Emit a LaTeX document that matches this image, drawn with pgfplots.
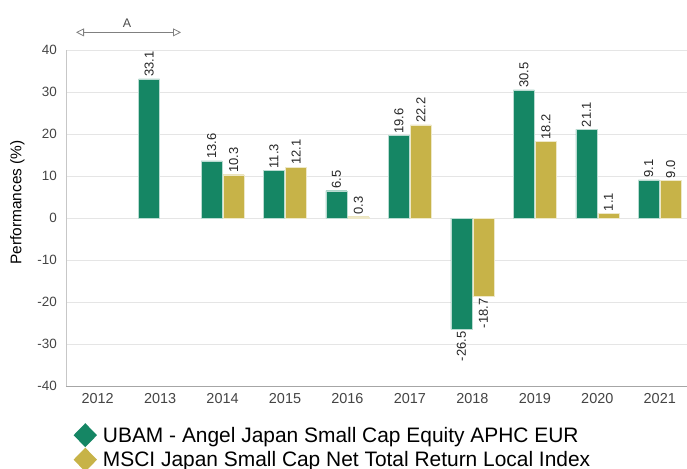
\documentclass[border=0pt]{standalone}
\usepackage{fontspec}
\setmainfont{Liberation Sans}
\usepackage{pgfplots}
\usepackage{pgfplotstable}
\pgfplotsset{compat=1.18}
\usetikzlibrary{arrows.meta}
\definecolor{ubgreen}{RGB}{21,134,100}
\definecolor{ubgold}{RGB}{199,179,72}
\definecolor{tickgray}{RGB}{68,68,68}
\pgfplotstableread{
x y
1 33.1
2 13.6
3 11.3
4 6.5
5 19.6
6 -26.5
7 30.5
8 21.1
9 9.1
}\fundtab
\pgfplotstableread{
x y
2 10.3
3 12.1
4 0.3
5 22.2
6 -18.7
7 18.2
8 1.1
9 9.0
}\indextab
\pgfplotsset{
  diamond legend/.style={legend image code/.code={
    \fill[##1,draw=none] (0bp,0bp) -- (11.7bp,12bp) -- (23.4bp,0bp) -- (11.7bp,-12bp) -- cycle;}},
  labelplot/.style 2 args={only marks, mark=none, forget plot,
    point meta=explicit symbolic, nodes near coords,
    every node near coord/.style={xshift=#1, rotate=90, anchor=#2,
      font=\fontsize{13}{14}\selectfont, text=black!85, inner sep=2bp}},
}
\begin{document}
\begin{tikzpicture}
\useasboundingbox (-66.4bp,-83bp) rectangle (620.6bp,386bp);
\begin{axis}[
  at={(0,0)}, anchor=south west,
  scale only axis,
  width=624.6bp, height=336bp,
  xmin=-0.5, xmax=9.5,
  ymin=-40, ymax=40,
  xtick={0,...,9},
  xticklabels={2012,2013,2014,2015,2016,2017,2018,2019,2020,2021},
  ytick={-40,-30,...,40},
  major tick length=0pt,
  ymajorgrids,
  grid style={draw=black!10, line width=0.8bp},
  axis x line*=bottom, axis y line*=left,
  x axis line style={draw=black!35, line width=0.8bp, -},
  y axis line style={draw=black!22, line width=0.8bp, -},
  tick label style={text=tickgray},
  xticklabel style={font=\fontsize{14.5}{16}\selectfont, yshift=-4bp},
  yticklabel style={font=\fontsize{13.5}{15}\selectfont, xshift=-6bp},
  /pgf/number format/assume math mode=true,
  ylabel={Performances (\%)},
  ylabel style={font=\fontsize{15.5}{17}\selectfont, at={(axis description cs:-0.0785,0.546)}, anchor=center},
  clip=false,
  legend style={at={(axis description cs:0,0)}, anchor=north west, xshift=4bp, yshift=-35bp,
    draw=none, fill=none, font=\fontsize{21}{24}\selectfont, row sep=0.5bp,
    /tikz/every even column/.append style={column sep=4bp}},
  legend cell align=left,
]
\addplot[ybar, bar width=21bp, bar shift=-11bp, fill=ubgreen, draw=white!70!ubgreen, line width=0.4bp, diamond legend] table[x=x,y=y] {\fundtab};
\addlegendentry{\hspace{4bp}UBAM - Angel Japan Small Cap Equity APHC EUR}
\addplot[ybar, bar width=21bp, bar shift=11bp, fill=ubgold, draw=white!70!ubgold, line width=0.4bp, diamond legend] table[x=x,y=y] {\indextab};
\addlegendentry{\hspace{4bp}MSCI Japan Small Cap Net Total Return Local Index}
% value labels
\addplot[labelplot={-11bp}{west}, restrict y to domain=0:100] table[x=x,y=y,meta=y] {\fundtab};
\addplot[labelplot={-11bp}{east}, restrict y to domain=-100:0] table[x=x,y=y,meta=y] {\fundtab};
\addplot[labelplot={11bp}{west}, restrict y to domain=0:100] table[x=x,y=y,meta=y] {\indextab};
\addplot[labelplot={11bp}{east}, restrict y to domain=-100:0] table[x=x,y=y,meta=y] {\indextab};
\draw[draw=black!50, line width=0.8bp, {Triangle[open, length=8bp, width=8bp]}-{Triangle[open, length=8bp, width=8bp]}]
  (axis cs:-0.346,44.2) -- (axis cs:1.335,44.2);
\node[font=\fontsize{12.5}{14}\selectfont, text=black!70] at (axis cs:0.47,46.3) {A};
\end{axis}
\end{tikzpicture}
\end{document}
